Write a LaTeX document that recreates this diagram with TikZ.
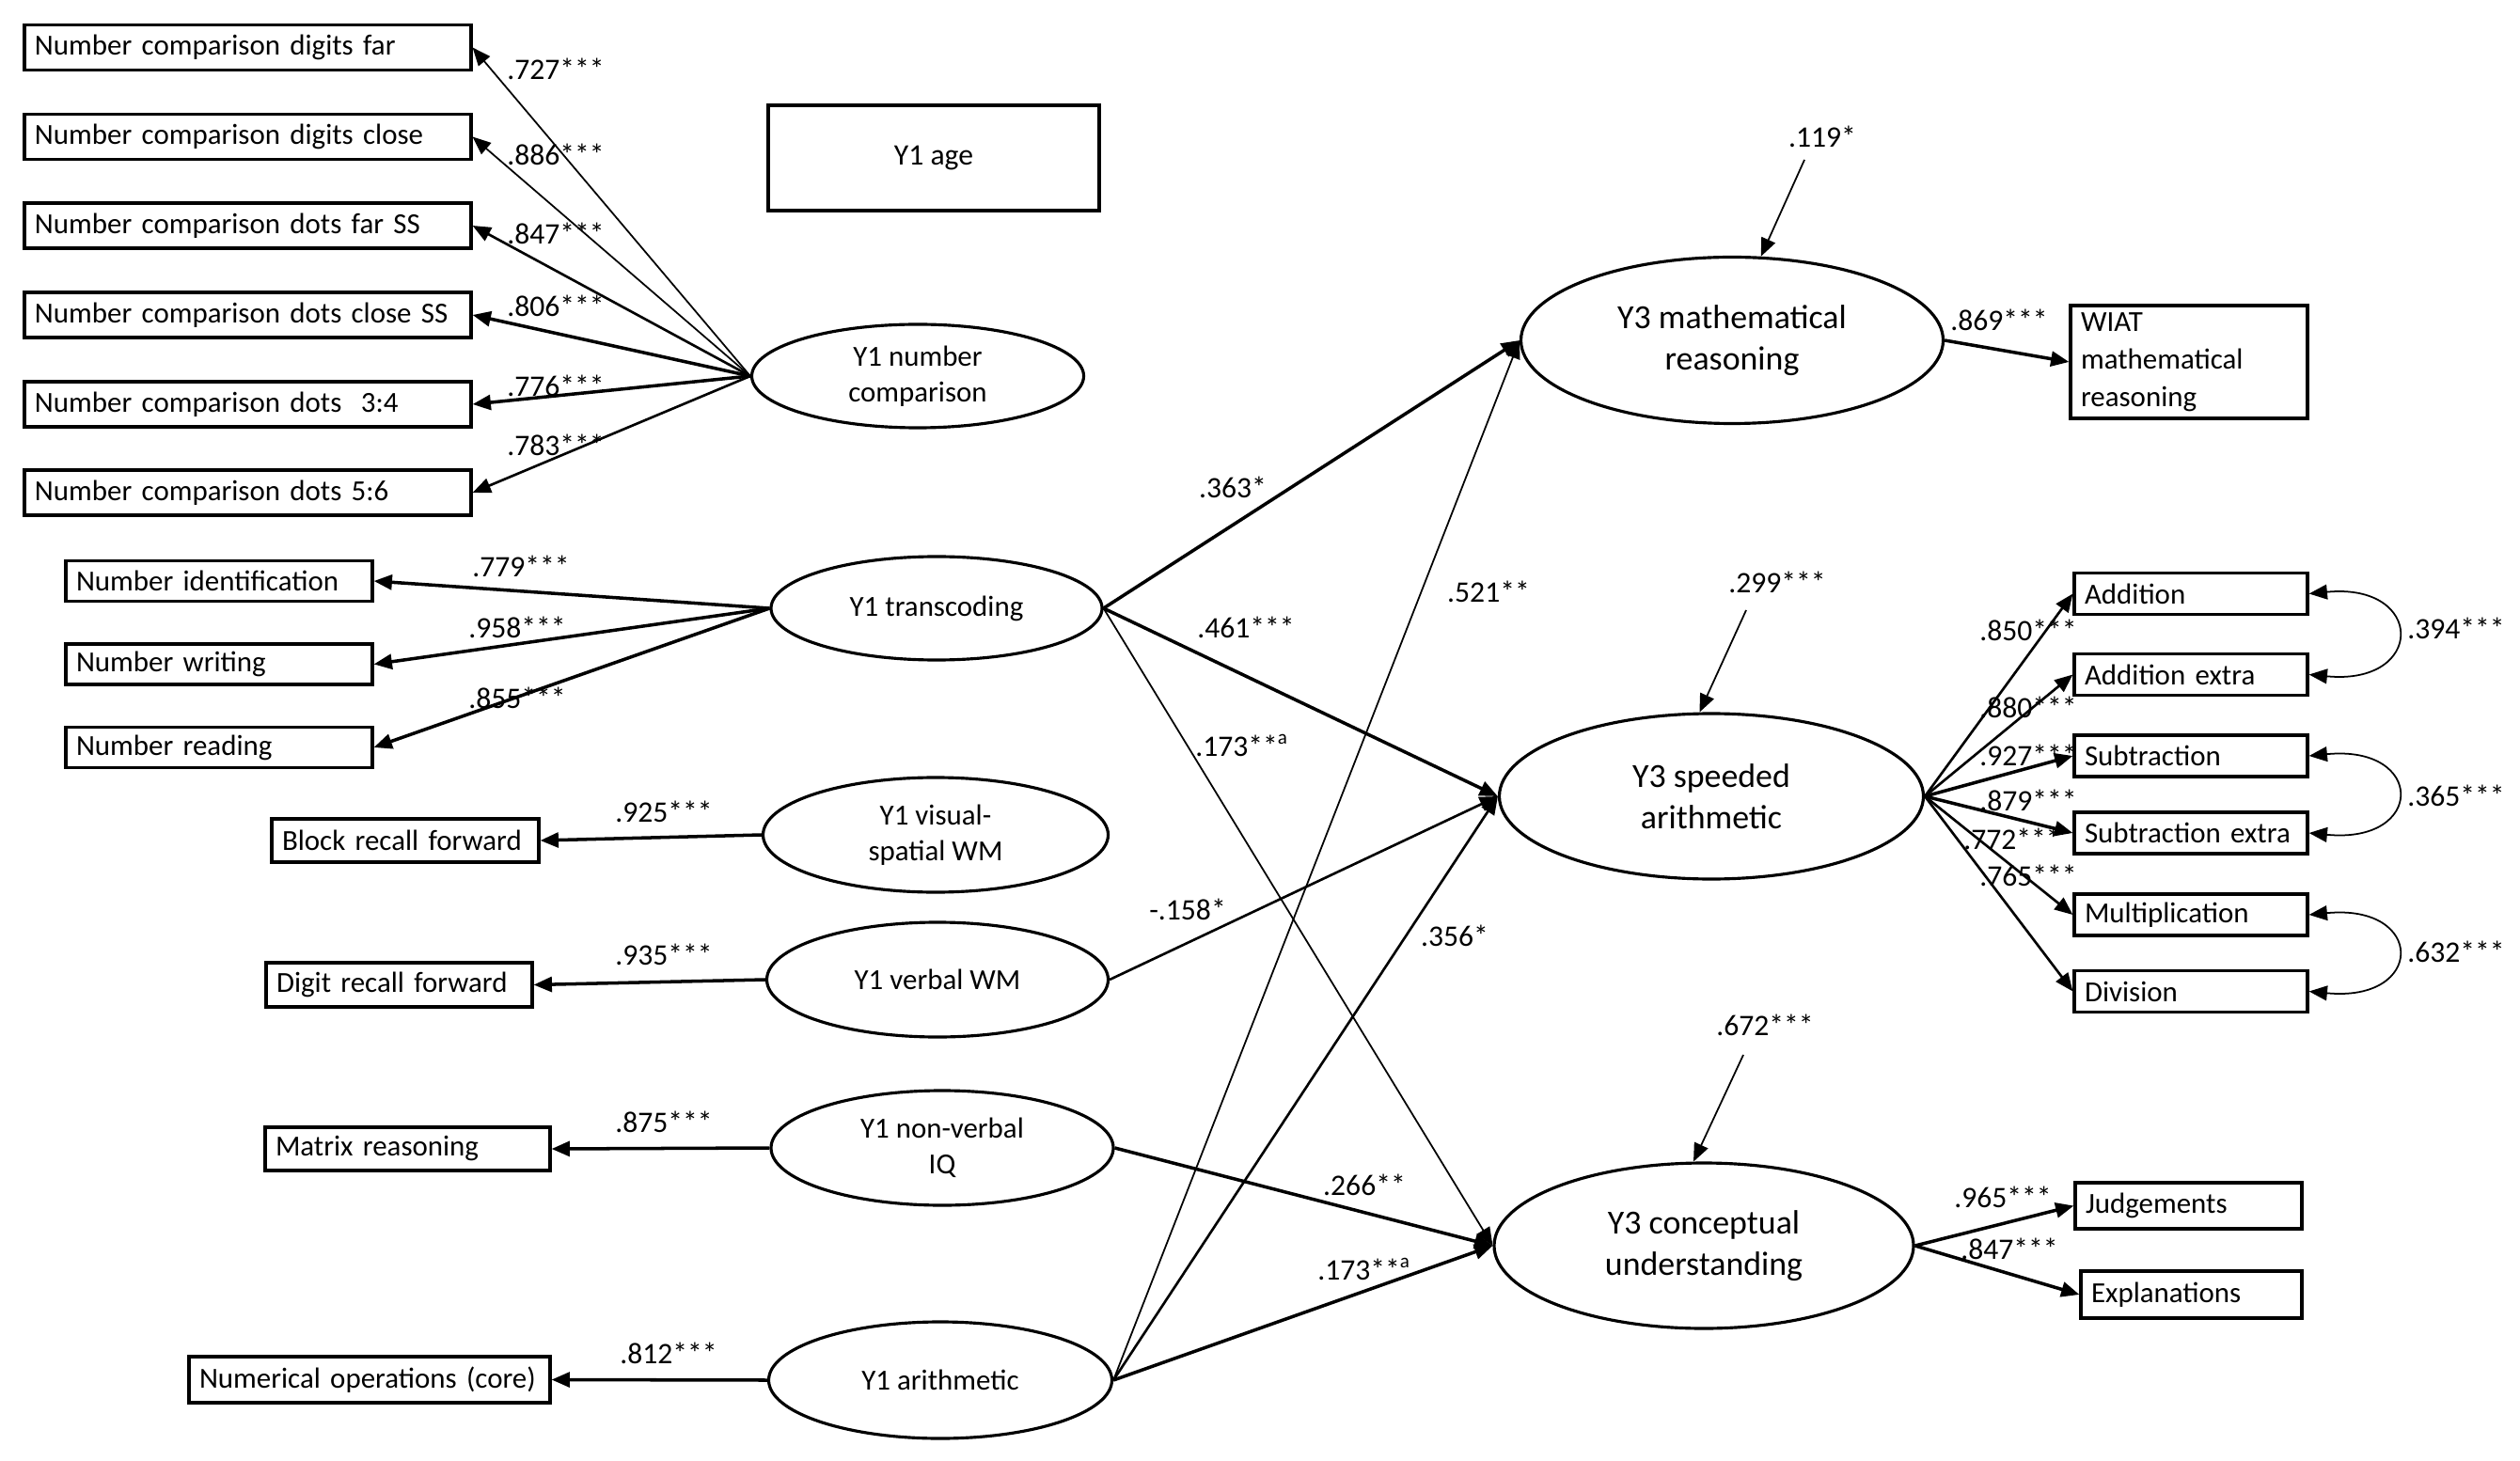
\documentclass[tikz,border=0pt]{standalone}
\usepackage{fontspec}
\setmainfont{Carlito}
\usetikzlibrary{shapes.geometric,arrows.meta}
\newcommand{\fsA}{\fontsize{8.8}{10.8}\selectfont}
\newcommand{\fsB}{\fontsize{10.2}{12.5}\selectfont}
\newcommand{\fsC}{\fontsize{9}{11}\selectfont}
\newcommand{\fsW}{\fontsize{8.8}{11.4}\selectfont}
\tikzset{
  obs/.style={draw, line width=0.9pt, inner xsep=0.11cm, inner ysep=0pt, align=left, font=\fsA},
  lat/.style={draw, ellipse, line width=0.9pt, inner sep=0pt, align=center, font=\fsA},
  latB/.style={lat, font=\fsB},
  lbl/.style={font=\fsC, inner sep=0pt},
  tip/.tip={Triangle[length=5.5pt,width=4.5pt]},
  arr/.style={-tip, line width=0.5pt},
  arrM/.style={-tip, line width=0.75pt},
  arrT/.style={-tip, line width=1pt},
  cor/.style={tip-tip, line width=0.5pt},
}
\begin{document}
\begin{tikzpicture}
\useasboundingbox (0,0) rectangle (26.8,-15.54);
% number comparison indicators
\node[obs, text width=4.53cm, minimum height=0.48cm] (nc1) at (2.635,-0.505) {Number comparison digits far};
\node[obs, text width=4.53cm, minimum height=0.48cm] (nc2) at (2.635,-1.455) {Number comparison digits close};
\node[obs, text width=4.53cm, minimum height=0.48cm] (nc3) at (2.635,-2.40) {Number comparison dots far SS};
\node[obs, text width=4.53cm, minimum height=0.48cm] (nc4) at (2.635,-3.35) {Number comparison dots close SS};
\node[obs, text width=4.53cm, minimum height=0.48cm] (nc5) at (2.635,-4.30) {Number comparison dots\ \ 3:4};
\node[obs, text width=4.53cm, minimum height=0.48cm] (nc6) at (2.635,-5.24) {Number comparison dots 5:6};
\node[draw, line width=0.9pt, minimum width=3.52cm, minimum height=1.12cm, font=\fsC] (age) at (9.93,-1.68) {Y1 age};
\node[lat, minimum width=3.53cm, minimum height=1.10cm] (ncL) at (9.76,-4.00) {Y1 number\\comparison};
% transcoding
\node[obs, text width=3.04cm, minimum height=0.43cm] (ti) at (2.33,-6.18) {Number identification};
\node[obs, text width=3.04cm, minimum height=0.43cm] (tw) at (2.33,-7.065) {Number writing};
\node[obs, text width=3.04cm, minimum height=0.43cm] (tr) at (2.33,-7.95) {Number reading};
\node[lat, minimum width=3.52cm, minimum height=1.10cm] (trL) at (9.96,-6.47) {Y1 transcoding};
% WM
\node[obs, text width=2.62cm, minimum height=0.46cm] (br) at (4.31,-8.94) {Block recall forward};
\node[lat, minimum width=3.67cm, minimum height=1.22cm] (vsL) at (9.95,-8.88) {Y1 visual-\\spatial WM};
\node[obs, text width=2.61cm, minimum height=0.47cm] (dr) at (4.245,-10.475) {Digit recall forward};
\node[lat, minimum width=3.63cm, minimum height=1.22cm] (vbL) at (9.97,-10.42) {Y1 verbal WM};
\node[obs, text width=2.81cm, minimum height=0.46cm] (mr) at (4.335,-12.22) {Matrix reasoning};
\node[lat, minimum width=3.64cm, minimum height=1.22cm] (iqL) at (10.02,-12.21) {Y1 non-verbal\\IQ};
\node[obs, text width=3.62cm, minimum height=0.49cm] (no) at (3.93,-14.675) {Numerical operations (core)};
\node[lat, minimum width=3.65cm, minimum height=1.24cm] (arL) at (10.00,-14.68) {Y1 arithmetic};
% Y3 latents
\node[latB, minimum width=4.49cm, minimum height=1.77cm] (m3) at (18.42,-3.62) {Y3 mathematical\\reasoning};
\node[latB, minimum width=4.51cm, minimum height=1.76cm] (s3) at (18.20,-8.47) {Y3 speeded\\arithmetic};
\node[latB, minimum width=4.46cm, minimum height=1.76cm] (c3) at (18.12,-13.25) {Y3 conceptual\\understanding};
\node[obs, font=\fsW, text width=2.30cm, minimum height=1.20cm] (wiat) at (23.28,-3.85) {WIAT\\mathematical\\reasoning};
\node[obs, text width=2.26cm, minimum height=0.44cm] (ad) at (23.30,-6.315) {Addition};
\node[obs, text width=2.26cm, minimum height=0.44cm] (adx) at (23.30,-7.175) {Addition extra};
\node[obs, text width=2.26cm, minimum height=0.44cm] (sb) at (23.30,-8.04) {Subtraction};
\node[obs, text width=2.26cm, minimum height=0.44cm] (sbx) at (23.30,-8.86) {Subtraction extra};
\node[obs, text width=2.26cm, minimum height=0.44cm] (mu) at (23.30,-9.73) {Multiplication};
\node[obs, text width=2.26cm, minimum height=0.44cm] (dv) at (23.30,-10.545) {Division};
\node[obs, text width=2.19cm, minimum height=0.49cm] (jd) at (23.275,-12.825) {Judgements};
\node[obs, text width=2.13cm, minimum height=0.50cm] (ex) at (23.305,-13.77) {Explanations};
% residual sources
\coordinate (r1) at (19.19,-1.70);
\coordinate (r2) at (18.57,-6.49);
\coordinate (r3) at (18.54,-11.22);
% loadings
\draw[arr] (ncL.west) -- (nc1.east);
\draw[arr] (ncL.west) -- (nc2.east);
\draw[arrM] (ncL.west) -- (nc3.east);
\draw[arrT] (ncL.west) -- (nc4.east);
\draw[arrT] (ncL.west) -- (nc5.east);
\draw[arrM] (ncL.west) -- (nc6.east);
\draw[arrT] (trL.west) -- (ti.east);
\draw[arrT] (trL.west) -- (tw.east);
\draw[arrT] (trL.west) -- (tr.east);
\draw[arrT] (vsL.west) -- (br.east);
\draw[arrT] (vbL.west) -- (dr.east);
\draw[arrT] (iqL.west) -- (mr.east);
\draw[arrT] (arL.west) -- (no.east);
\draw[arrT] (m3.east) -- (wiat.west);
\draw[arrM] (s3.east) -- (ad.west);
\draw[arrM] (s3.east) -- (adx.west);
\draw[arrT] (s3.east) -- (sb.west);
\draw[arrT] (s3.east) -- (sbx.west);
\draw[arrM] (s3.east) -- (mu.west);
\draw[arrM] (s3.east) -- (dv.west);
\draw[arrT] (c3.east) -- (jd.west);
\draw[arrT] (c3.east) -- (ex.west);
% structural paths
\draw[arrT] (trL.east) -- (m3.west);
\draw[arrT] (trL.east) -- (s3.west);
\draw[arr] (trL.east) -- (c3.west);
\draw[arrM] (vbL.east) -- (s3.west);
\draw[arrT] (iqL.east) -- (c3.west);
\draw[arr] (arL.east) -- (m3.west);
\draw[arrM] (arL.east) -- (s3.west);
\draw[arrT] (arL.east) -- (c3.west);
% residuals
\draw[arr] (r1) -- (m3.71);
\draw[arr] (r2) -- (s3.98);
\draw[arr] (r3) -- (c3.97);
% correlations
\draw[cor] (ad.east) .. controls +(1.24,0.12) and +(1.24,-0.12) .. (adx.east);
\draw[cor] (sb.east) .. controls +(1.24,0.12) and +(1.24,-0.12) .. (sbx.east);
\draw[cor] (mu.east) .. controls +(1.24,0.12) and +(1.24,-0.12) .. (dv.east);
% labels
\node[lbl] (l1) at (5.91,-0.73) {.727***};
\node[lbl] (l2) at (5.91,-1.64) {.886***};
\node[lbl] (l3) at (5.91,-2.48) {.847***};
\node[lbl] (l4) at (5.91,-3.25) {.806***};
\node[lbl] (l5) at (5.91,-4.10) {.776***};
\node[lbl] (l6) at (5.91,-4.73) {.783***};
\node[lbl] (l7) at (5.54,-6.02) {.779***};
\node[lbl] (l8) at (5.50,-6.67) {.958***};
\node[lbl] (l9) at (5.50,-7.42) {.855***};
\node[lbl] (l10) at (7.06,-8.63) {.925***};
\node[lbl] (l11) at (7.06,-10.15) {.935***};
\node[lbl] (l12) at (7.06,-11.93) {.875***};
\node[lbl] (l13) at (7.11,-14.39) {.812***};
\node[lbl] (l14) at (13.11,-5.18) {.363*};
\node[lbl] (l15) at (13.25,-6.67) {.461***};
\node[lbl] (l16) at (15.83,-6.29) {.521**};
\node[lbl] (l17) at (13.21,-7.93) {.173**\textsuperscript{a}};
\node[lbl] (l18) at (18.90,-6.19) {.299***};
\node[lbl] (l19) at (12.63,-9.67) {-.158*};
\node[lbl] (l20) at (15.47,-9.95) {.356*};
\node[lbl] (l21) at (18.77,-10.90) {.672***};
\node[lbl] (l22) at (14.51,-12.60) {.266**};
\node[lbl] (l23) at (14.51,-13.50) {.173**\textsuperscript{a}};
\node[lbl] (l24) at (19.38,-1.45) {.119*};
\node[lbl] (l25) at (21.26,-3.40) {.869***};
\node[lbl] (l26) at (21.57,-6.70) {.850***};
\node[lbl] (l27) at (21.57,-7.52) {.880***};
\node[lbl] (l28) at (21.57,-8.03) {.927***};
\node[lbl] (l29) at (21.57,-8.51) {.879***};
\node[lbl] (l30) at (21.40,-8.92) {.772***};
\node[lbl] (l31) at (21.57,-9.31) {.765***};
\node[lbl] (l32) at (26.12,-6.68) {.394***};
\node[lbl] (l33) at (26.12,-8.46) {.365***};
\node[lbl] (l34) at (26.12,-10.12) {.632***};
\node[lbl] (l35) at (21.30,-12.73) {.965***};
\node[lbl] (l36) at (21.37,-13.28) {.847***};
\end{tikzpicture}
\end{document}
